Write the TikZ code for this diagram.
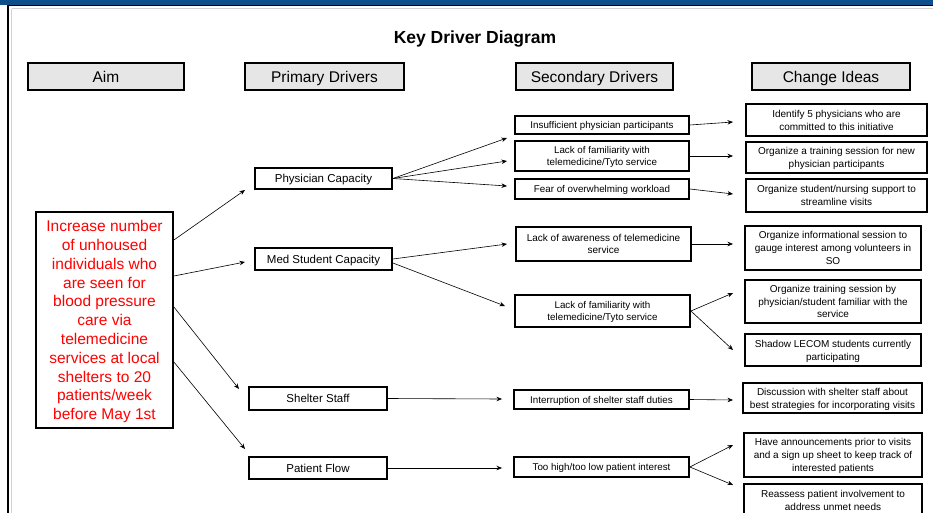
\documentclass[tikz,border=0pt]{standalone}
\usepackage{fontspec}
\setmainfont{Liberation Sans}
\usetikzlibrary{arrows.meta}
\definecolor{topblue}{HTML}{0E4F8B}
\definecolor{hdrgray}{HTML}{E6E6E6}
\definecolor{aimred}{HTML}{FF0000}
\begin{document}
\begin{tikzpicture}[x=1pt,y=-1pt,
  box/.style={draw=black,line width=1.8pt,inner sep=0pt,align=center,text=black,text depth=0pt},
  hdr/.style={box,fill=hdrgray,minimum height=27pt,font=\fontsize{15.5}{18}\selectfont},
  prim/.style={box,minimum width=137pt,font=\fontsize{11.5}{13}\selectfont},
  sec/.style={box,minimum width=174pt,font=\fontsize{9.8}{11.8}\selectfont},
  chg/.style={box,minimum width=178pt,font=\fontsize{10}{12.8}\selectfont},
  arr/.style={draw=black,line width=0.6pt,-{Stealth[length=5.5pt,width=4.5pt]}}
]
\useasboundingbox (0,0) rectangle (933,513);
\clip (0,0) rectangle (933,513);
% frame
\fill[topblue] (0,0) rectangle (933,5);
\draw[black,line width=1.2pt] (8,5.6) -- (933,5.6);
\draw[black,line width=2.2pt] (8,5) -- (8,513);
\draw[gray!35,line width=1pt] (11.5,9) -- (933,9);
\draw[gray!35,line width=1pt] (11.5,9) -- (11.5,513);
% title
\node[font=\fontsize{17.5}{20}\selectfont\bfseries,text depth=0pt] (title) at (475,37.5) {Key Driver Diagram};
% headers
\node[hdr,minimum width=156pt] (hA) at (106,76.5) {Aim};
\node[hdr,minimum width=159pt] (hP) at (324.5,76.5) {Primary Drivers};
\node[hdr,minimum width=157pt] (hS) at (594.5,76.5) {Secondary Drivers};
\node[hdr,minimum width=158pt] (hC) at (831,76.5) {Change Ideas};
% aim
\node[box,minimum width=137pt,minimum height=216pt,text=aimred,font=\fontsize{15.5}{18.8}\selectfont] (aim) at (104.5,320)
 {Increase number\\of unhoused\\individuals who\\are seen for\\blood pressure\\care via\\telemedicine\\services at local\\shelters to 20\\patients/week\\before May 1st};
% primary
\node[prim,minimum height=21pt] (phys) at (323.5,178.5) {Physician Capacity};
\node[prim,minimum height=22pt] (med) at (323.5,259) {Med Student Capacity};
\node[prim,minimum width=138pt,minimum height=23pt] (shel) at (318,398.5) {Shelter Staff};
\node[prim,minimum width=138pt,minimum height=22pt] (pat) at (318,468) {Patient Flow};
% secondary
\node[sec,minimum height=18pt] (s1) at (602,125) {Insufficient physician participants};
\node[sec,minimum height=30pt] (s2) at (602,156) {Lack of familiarity with\\telemedicine/Tyto service};
\node[sec,minimum height=20pt] (s3) at (602,189) {Fear of overwhelming workload};
\node[sec,minimum width=175pt,minimum height=34pt,font=\fontsize{10}{12.3}\selectfont] (s4) at (603.5,244) {Lack of awareness of telemedicine\\service};
\node[sec,minimum width=175pt,minimum height=32pt] (s5) at (602.5,311) {Lack of familiarity with\\telemedicine/Tyto service};
\node[sec,minimum width=175pt,minimum height=19pt] (s6) at (601.5,399.5) {Interruption of shelter staff duties};
\node[sec,minimum width=175pt,minimum height=20pt] (s7) at (601.5,467) {Too high/too low patient interest};
% change ideas
\node[chg,minimum width=181pt,minimum height=32pt] (c1) at (836.5,120) {Identify 5 physicians who are\\committed to this initiative};
\node[chg,minimum width=181pt,minimum height=31pt] (c2) at (836.5,157.5) {Organize a training session for new\\physician participants};
\node[chg,minimum width=181pt,minimum height=33pt] (c3) at (836.5,195.5) {Organize student/nursing support to\\streamline visits};
\node[chg,minimum width=176pt,minimum height=44pt] (c4) at (833,248) {Organize informational session to\\gauge interest among volunteers in\\SO};
\node[chg,minimum width=176pt,minimum height=43pt] (c5) at (833,301.5) {Organize training session by\\physician/student familiar with the\\service};
\node[chg,minimum width=176pt,minimum height=32pt] (c6) at (833,350) {Shadow LECOM students currently\\participating};
\node[chg,minimum width=179pt,minimum height=30pt] (c7) at (832.5,398) {Discussion with shelter staff about\\best strategies for incorporating visits};
\node[chg,minimum width=178pt,minimum height=44pt] (c8) at (833,455) {Have announcements prior to visits\\and a sign up sheet to keep track of\\interested patients};
\node[chg,minimum width=178pt,minimum height=33pt,anchor=north] (c9) at (833,483) {Reassess patient involvement to\\address unmet needs};
% arrow tips (free ends)
\coordinate (tPhys) at (245,190);
\coordinate (tMed) at (245,262);
\coordinate (tShel) at (239,389);
\coordinate (tPat) at (245,449);
\coordinate (t1) at (507,138);
\coordinate (t2) at (507,161);
\coordinate (t3) at (507,186);
\coordinate (t4) at (507,244);
\coordinate (t5) at (505,306);
\coordinate (t6) at (502,399);
\coordinate (t7) at (502,468);
\coordinate (u1) at (733,122);
\coordinate (u2) at (733,156);
\coordinate (u3) at (733,194);
\coordinate (u4) at (733,244);
\coordinate (u5) at (733,293);
\coordinate (u6) at (733,350);
\coordinate (u7) at (733,400);
\coordinate (u8) at (733,445);
\coordinate (u9) at (733,485);
% aim -> primary
\draw[arr] ([yshift=80pt]aim.east) -- (tPhys);
\draw[arr] ([yshift=44pt]aim.east) -- (tMed);
\draw[arr] ([yshift=13pt]aim.east) -- (tShel);
\draw[arr] ([yshift=-42pt]aim.east) -- (tPat);
% primary -> secondary
\draw[arr] (phys.east) -- (t1);
\draw[arr] (phys.east) -- (t2);
\draw[arr] (phys.east) -- (t3);
\draw[arr] (med.east) -- (t4);
\draw[arr] ([yshift=-4pt]med.east) -- (t5);
\draw[arr] (shel.east) -- (t6);
\draw[arr] (pat.east) -- (t7);
% secondary -> change
\draw[arr] (s1.east) -- (u1);
\draw[arr] (s2.east) -- (u2);
\draw[arr] (s3.east) -- (u3);
\draw[arr] (s4.east) -- (u4);
\draw[arr] (s5.east) -- (u5);
\draw[arr] (s5.east) -- (u6);
\draw[arr] (s6.east) -- (u7);
\draw[arr] (s7.east) -- (u8);
\draw[arr] (s7.east) -- (u9);
\end{tikzpicture}
\end{document}
